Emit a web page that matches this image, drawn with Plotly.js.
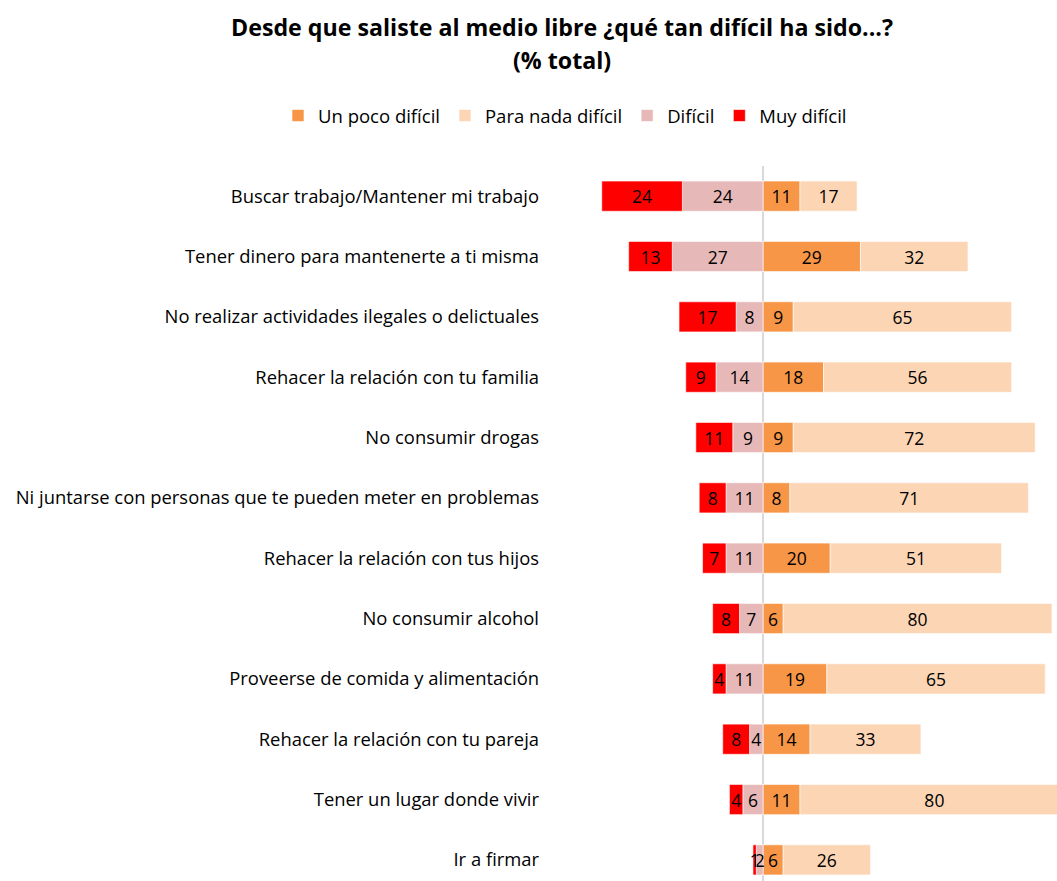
<!DOCTYPE html>
<html>
<head>
<meta charset="utf-8">
<script src="https://cdn.plot.ly/plotly-3.0.1.min.js"></script>
<style>html,body{margin:0;padding:0;overflow:hidden;background:#fff}</style>
</head>
<body>
<div id="chart" style="width:1057px;height:881px"></div>
<script>
const categories = [
  "Buscar trabajo/Mantener mi trabajo",
  "Tener dinero para mantenerte a ti misma",
  "No realizar actividades ilegales o delictuales",
  "Rehacer la relación con tu familia",
  "No consumir drogas",
  "Ni juntarse con personas que te pueden meter en problemas",
  "Rehacer la relación con tus hijos",
  "No consumir alcohol",
  "Proveerse de comida y alimentación",
  "Rehacer la relación con tu pareja",
  "Tener un lugar donde vivir",
  "Ir a firmar"
];
const muyDificil   = [24, 13, 17, 9, 11, 8, 7, 8, 4, 8, 4, 1];
const dificil      = [24, 27, 8, 14, 9, 11, 11, 7, 11, 4, 6, 2];
const unPocoDificil= [11, 29, 9, 18, 9, 8, 20, 6, 19, 14, 11, 6];
const paraNada     = [17, 32, 65, 56, 72, 71, 51, 80, 65, 33, 80, 26];
const titleLine1 = 'Desde que saliste al medio libre ¿qué tan difícil ha sido...?';
const titleLine2 = '(% total)';

const FONT = "'Open Sans', sans-serif";
function mk(name, vals, color, neg) {
  return {
    type: 'bar', orientation: 'h', name: name,
    y: categories,
    x: vals.map(v => neg ? -v : v),
    text: vals.map(v => String(v)),
    textposition: 'inside', insidetextanchor: 'middle',
    constraintext: 'none', textangle: 0,
    textfont: {family: FONT, size: 17.5, color: '#000'},
    marker: {color: color, line: {color: 'rgba(255,255,255,0.6)', width: 1}},
    hoverinfo: 'skip'
  };
}
const data = [
  mk('Un poco difícil', unPocoDificil, '#F79646', false),
  mk('Para nada difícil', paraNada, '#FCD5B4', false),
  mk('Difícil', dificil, '#E6B9B8', true),
  mk('Muy difícil', muyDificil, '#FF0000', true)
];
const layout = {
  width: 1057, height: 881,
  margin: {l: 590, r: 0, t: 166, b: 0},
  barmode: 'relative', bargap: 0.5,
  paper_bgcolor: '#fff', plot_bgcolor: '#fff',
  font: {family: FONT, size: 16, color: '#000'},
  title: {
    text: '<b>' + titleLine1 + '</b>',
    font: {family: FONT, size: 23.2, color: '#000'},
    x: 562 / 1057, xanchor: 'center', xref: 'container',
    y: 1 - 28 / 881, yanchor: 'middle', yref: 'container'
  },
  annotations: [{
    text: '<b>' + titleLine2 + '</b>', showarrow: false,
    xref: 'paper', yref: 'paper',
    x: (562 - 590) / 467, y: (881 - 60) / 715,
    xanchor: 'center', yanchor: 'middle',
    font: {family: FONT, size: 23.2, color: '#000'}
  }],
  showlegend: true,
  legend: {
    orientation: 'h', xref: 'paper', yref: 'paper',
    x: (278 - 590) / 467, xanchor: 'left',
    y: (881 - 116) / 715, yanchor: 'middle',
    font: {family: FONT, size: 18.5, color: '#000'},
    traceorder: 'normal', itemwidth: 30
  },
  xaxis: {
    range: [-51.5, 87.5], showgrid: false, showticklabels: false,
    zeroline: true, zerolinecolor: '#D9D9D9', zerolinewidth: 2,
    fixedrange: true
  },
  yaxis: {
    autorange: false, range: [11.35, -0.5],
    showgrid: false, zeroline: false, showline: false,
    ticks: '', ticklabelstandoff: 50,
    tickfont: {family: FONT, size: 18.4, color: '#000'},
    fixedrange: true
  }
};
Plotly.newPlot('chart', data, layout, {displayModeBar: false, staticPlot: true});
</script>
</body>
</html>
